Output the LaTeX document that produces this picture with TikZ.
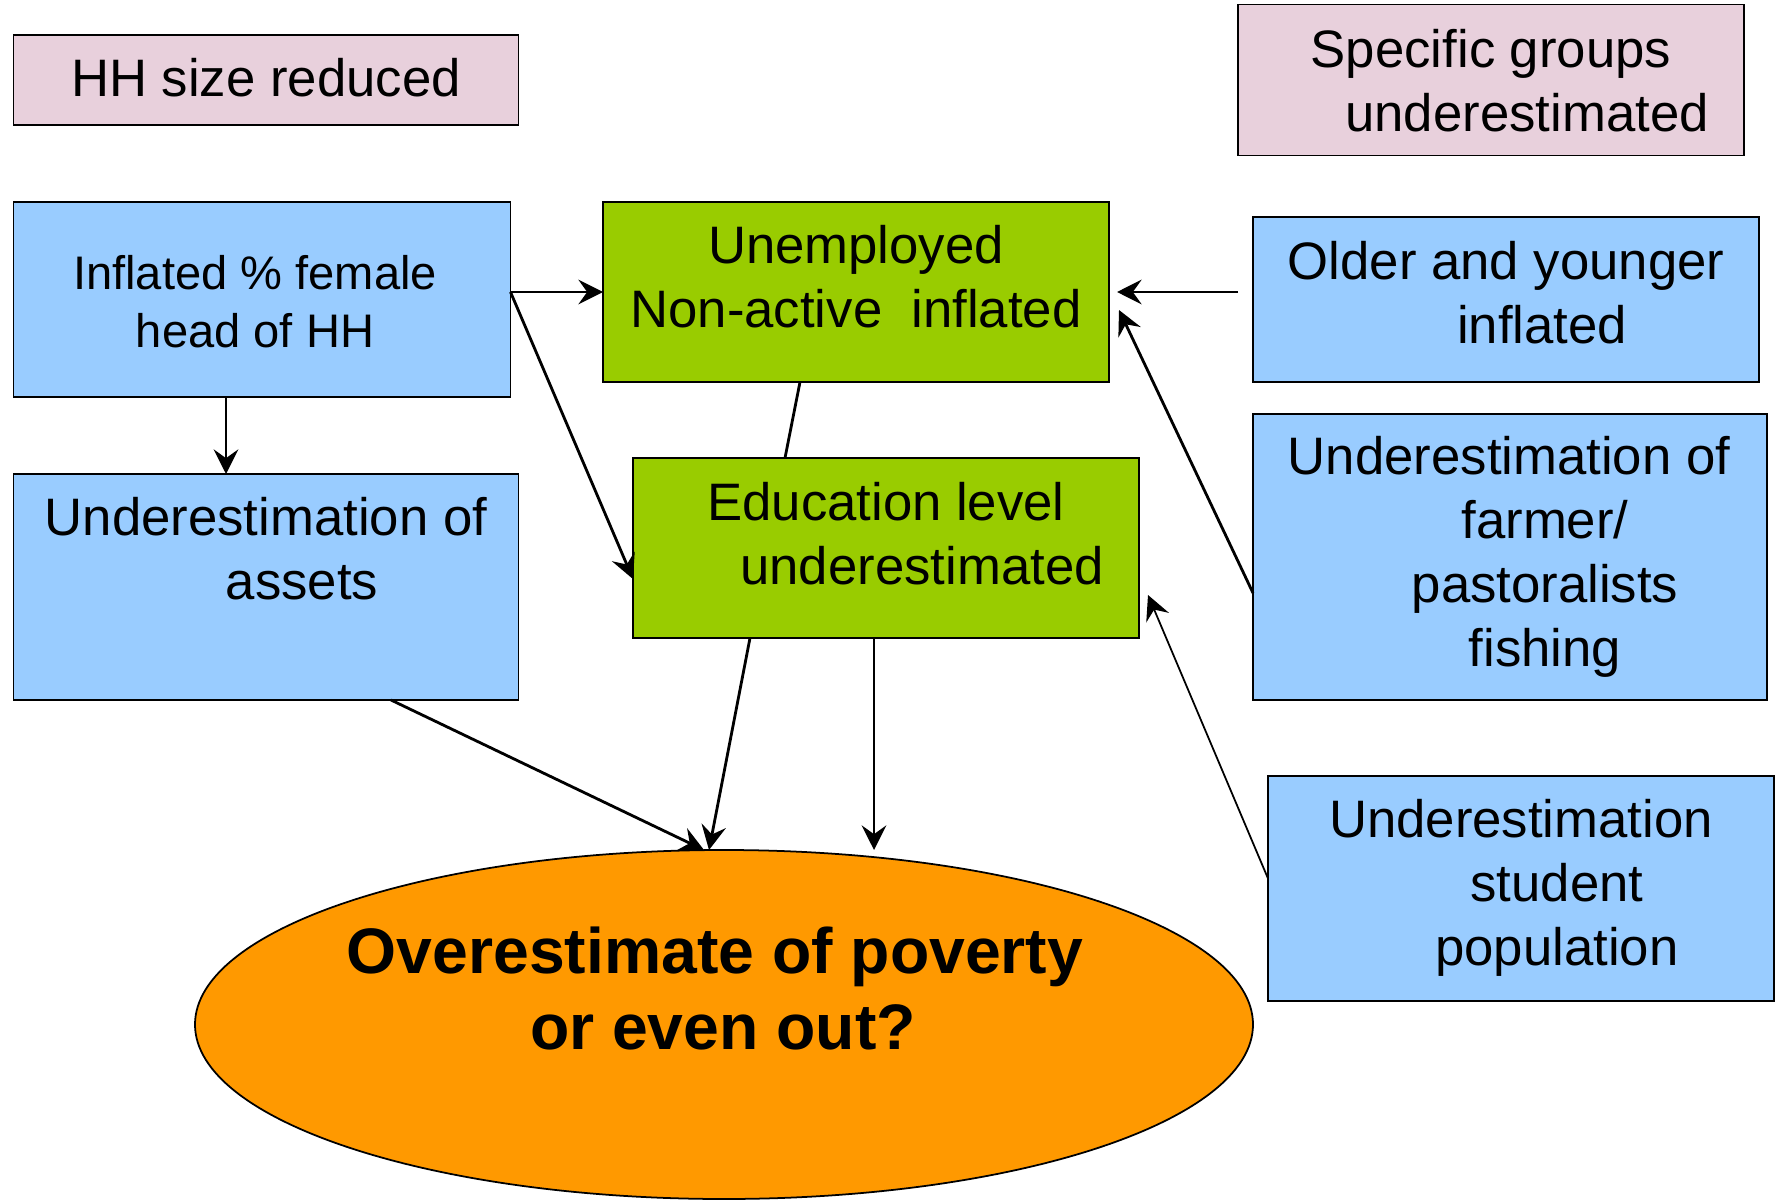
\documentclass[tikz,border=0pt]{standalone}
\usepackage{fontspec}
\setmainfont{Liberation Sans}
\usetikzlibrary{arrows.meta,shapes.geometric}
\definecolor{boxpink}{RGB}{232,208,220}
\definecolor{boxblue}{RGB}{153,204,255}
\definecolor{boxgreen}{RGB}{153,204,0}
\definecolor{povorange}{RGB}{255,153,0}

\begin{document}
\begin{tikzpicture}[box/.style={draw, line width=0.5pt, inner sep=0pt, outer sep=0pt},
  txt/.style={anchor=north, inner sep=0pt, align=center, font=\fontsize{15}{18.2}\selectfont},
  arr/.style={-{Stealth[length=7pt,width=7pt,inset=2.5pt]}, line width=0.8pt}]

\useasboundingbox (0,0) rectangle (17.78,-12.04);

\node[box, fill=boxpink, minimum width=5.05cm, minimum height=0.90cm] (hhsize) at (2.66,-0.80) {};
\node[box, fill=boxpink, minimum width=5.06cm, minimum height=1.51cm] (groups) at (14.91,-0.80) {};
\node[box, fill=boxblue, minimum width=4.97cm, minimum height=1.95cm] (female) at (2.62,-2.995) {};
\node[box, fill=boxgreen, minimum width=5.06cm, minimum height=1.80cm] (unemp) at (8.56,-2.92) {};
\node[box, fill=boxblue, minimum width=5.06cm, minimum height=1.65cm] (older) at (15.06,-2.995) {};
\node[box, fill=boxblue, minimum width=5.05cm, minimum height=2.26cm] (assets) at (2.66,-5.87) {};
\node[box, fill=boxgreen, minimum width=5.06cm, minimum height=1.80cm] (educ) at (8.86,-5.48) {};
\node[box, fill=boxblue, minimum width=5.14cm, minimum height=2.86cm] (farmer) at (15.10,-5.57) {};
\node[box, fill=boxblue, minimum width=5.06cm, minimum height=2.25cm] (student) at (15.21,-8.885) {};
\node[box, ellipse, fill=povorange, minimum width=10.58cm, minimum height=3.49cm] (pov) at (7.24,-10.245) {};

\node[txt] (hhtxt) at (2.66,-0.58) {HH size reduced};
\node[txt] (groupstxt) at (14.91,-0.29) {Specific groups\\\hspace*{0.72cm}underestimated};
\node[txt, font=\fontsize{13.4}{16.5}\selectfont] (femaletxt) at (2.55,-2.545) {Inflated \% female\\head of HH};
\node[txt] (unemptxt) at (8.56,-2.25) {Unemployed\\Non-active\ \ inflated};
\node[txt] (oldertxt) at (15.06,-2.41) {Older and younger\\\hspace*{0.72cm}inflated};
\node[txt] (assetstxt) at (2.66,-4.97) {Underestimation of\\\hspace*{0.72cm}assets};
\node[txt] (eductxt) at (8.86,-4.82) {Education level\\\hspace*{0.72cm}underestimated};
\node[txt] (farmertxt) at (15.09,-4.36) {Underestimation of\\\hspace*{0.72cm}farmer/\\\hspace*{0.72cm}pastoralists\\\hspace*{0.72cm}fishing};
\node[txt] (studenttxt) at (15.21,-7.99) {Underestimation\\\hspace*{0.72cm}student\\\hspace*{0.72cm}population};
\node[txt, font=\fontsize{18.3}{21.7}\selectfont\bfseries] (povtxt) at (7.15,-9.26) {Overestimate of poverty\\\hspace*{0.16cm}or even out?};

\draw[arr] (female.east |- unemp.west) -- (unemp.west);
\draw[arr] (female.east |- unemp.west) -- (educ.187);
\draw[arr] ([xshift=-0.36cm]female.south) -- ([xshift=-0.36cm]female.south |- assets.north);
\draw[line width=0.8pt] ([xshift=-0.56cm]unemp.south) -- ([xshift=-1.01cm]educ.north);
\draw[arr] ([xshift=-0.15cm]older.west |- unemp.east) -- ([xshift=0.08cm]unemp.east);
\draw[arr] ([yshift=-0.36cm]farmer.west) -- ([shift={(0.1,-0.18)}]unemp.east);
\draw[arr, line width=0.5pt] ([yshift=0.1cm]student.west) -- ([shift={(0.09,-0.47)}]educ.east);
\draw[arr] ([xshift=1.25cm]assets.south) -- ([xshift=-0.2cm]pov.north);
\draw[arr] ([xshift=-1.36cm]educ.south) -- ([xshift=-0.15cm]pov.north);
\draw[arr] ([xshift=-0.12cm]educ.south) -- ([xshift=-0.12cm]educ.south |- pov.north);

\end{tikzpicture}
\end{document}
